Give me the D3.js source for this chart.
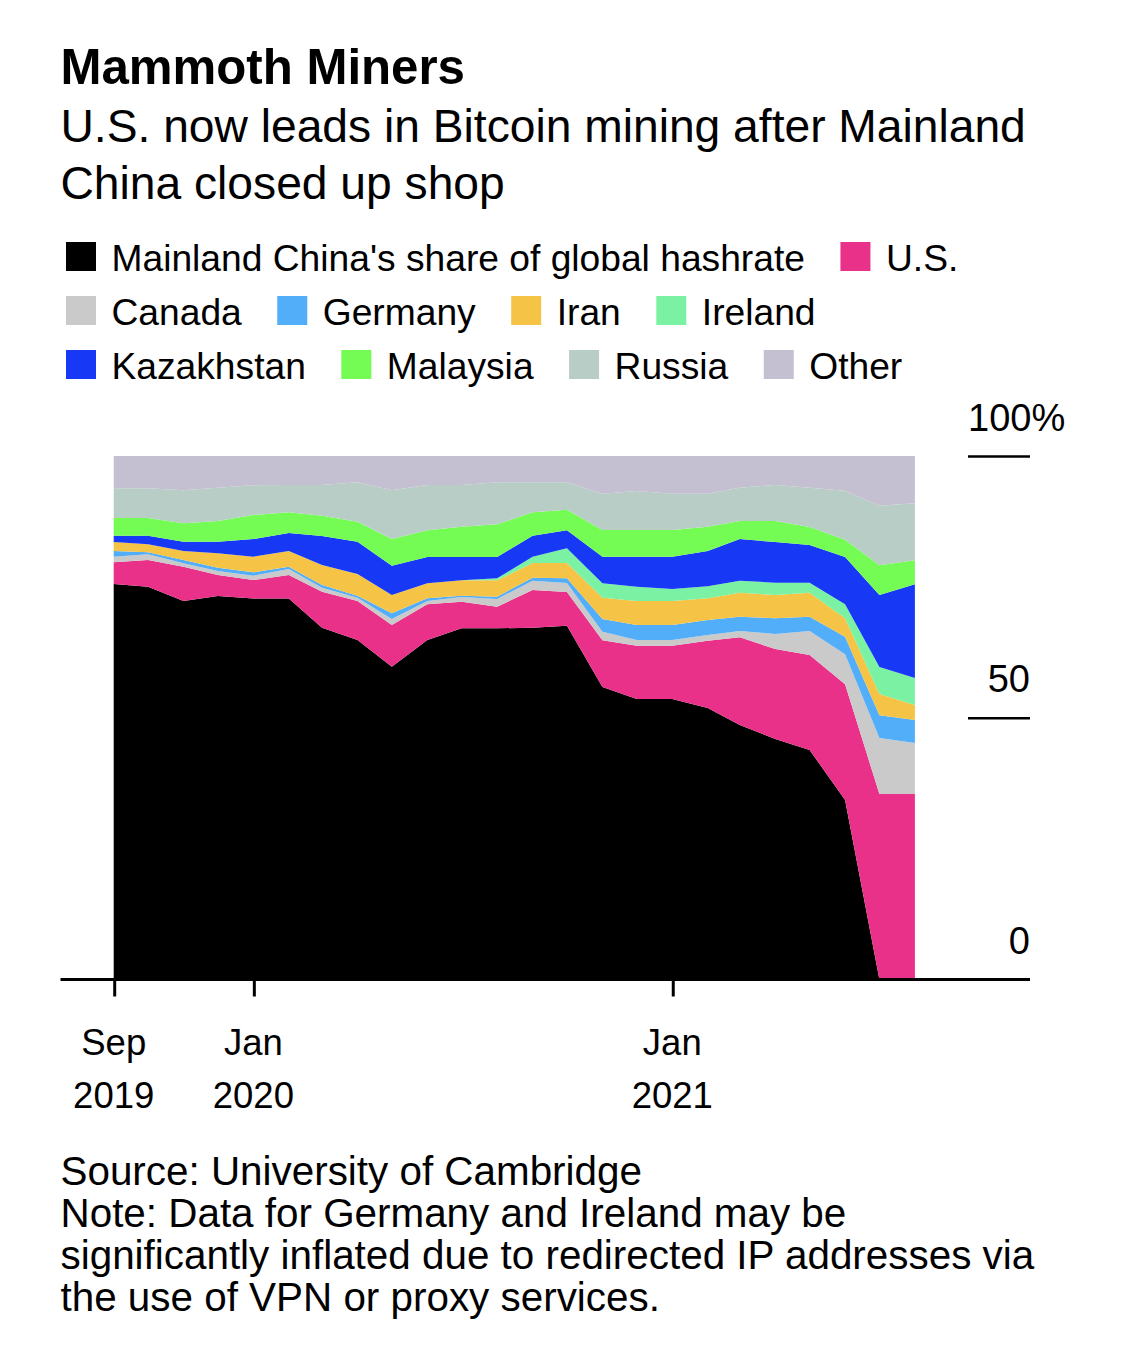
<!DOCTYPE html>
<html>
<head>
<meta charset="utf-8">
<script src="https://cdn.jsdelivr.net/npm/d3@7"></script>
<style>
html,body{margin:0;padding:0;background:#fff}
svg{display:block}
text{font-family:"Liberation Sans",Arial,sans-serif;fill:#000}
</style>
</head>
<body>
<svg id="chart" width="1125" height="1352"></svg>
<script>
const title = "Mammoth Miners";
const subtitle = ["U.S. now leads in Bitcoin mining after Mainland", "China closed up shop"];
const footer = ["Source: University of Cambridge",
  "Note: Data for Germany and Ireland may be",
  "significantly inflated due to redirected IP addresses via",
  "the use of VPN or proxy services."];

const months = ["2019-09","2019-10","2019-11","2019-12","2020-01","2020-02","2020-03","2020-04","2020-05","2020-06","2020-07","2020-08",
  "2020-09","2020-10","2020-11","2020-12","2021-01","2021-02","2021-03","2021-04","2021-05","2021-06","2021-07","2021-08"];
const xTicks = [["2019-09","Sep","2019"],["2020-01","Jan","2020"],["2021-01","Jan","2021"]];
const yTicks = [50,100];
const yLabels = [0,50,100];

const seriesNames = ["Mainland China's share of global hashrate","U.S.","Canada","Germany","Iran","Ireland","Kazakhstan","Malaysia","Russia","Other"];
const seriesColors = ["#000000","#ea3189","#cacaca","#53aef9","#f5c345","#7bf1a3","#1739f5","#74fc54","#b7cdc6","#c4c0d1"];

const china      = [75.55,75.04,72.30,73.26,72.80,72.80,67.20,64.85,59.76,64.85,67.08,67.08,67.20,67.59,55.87,53.58,53.58,51.86,48.60,45.94,43.84,34.29,0,0];
const us         = [4.14,5.09,6.56,4.01,3.51,4.47,6.88,7.45,7.96,6.81,5.09,4.14,7.20,6.43,8.92,10.19,10.19,12.86,16.76,17.19,18.15,22.09,35.43,35.43];
const canada     = [1.08,1.08,0.64,0.76,0.83,1.14,0.77,0.64,1.14,0.64,0.89,1.46,1.78,1.72,1.65,1.08,1.08,1.08,1.21,2.87,4.58,5.73,10.70,9.75];
const germany    = [1.08,0.39,0.63,0.64,0.64,0.45,0.51,0.38,1.08,0.51,0.26,0.45,0.58,0.89,2.42,2.87,2.87,2.87,2.74,2.99,2.74,3.38,4.37,4.39];
const iran       = [1.72,1.52,1.72,2.74,2.99,2.99,3.82,4.14,3.51,2.87,2.93,3.12,2.80,2.93,4.08,4.58,4.58,4.14,4.58,4.46,4.58,3.50,4.04,2.87];
const ireland    = [0,0,0,0,0,0,0,0,0,0,0,0.38,1.21,2.80,2.74,2.74,2.30,2.29,2.29,2.35,1.91,2.67,5.16,5.16];
const kazakhstan = [1.21,1.66,1.78,2.22,3.37,3.44,5.54,6.17,5.60,5.03,4.46,4.08,4.01,3.44,5.09,5.73,6.17,6.75,7.96,7.77,7.20,9.05,13.75,17.88];
const malaysia   = [3.37,3.37,3.51,3.95,4.59,3.95,3.88,3.83,5.09,5.09,5.79,6.24,4.46,3.95,5.09,5.09,5.09,4.65,3.44,4.01,3.44,3.31,5.66,4.59];
const russia     = [5.67,5.67,6.30,6.37,5.67,5.22,5.86,7.51,9.30,8.66,7.96,8.02,5.73,5.22,6.94,7.45,6.94,6.30,6.37,6.88,7.51,9.36,11.40,10.89];
const other      = [6.18,6.18,6.56,6.05,5.60,5.54,5.54,5.03,6.56,5.54,5.54,5.03,5.03,5.03,7.20,6.69,7.20,7.20,6.05,5.54,6.05,6.62,9.49,9.04];
const seriesValues = [china,us,canada,germany,iran,ireland,kazakhstan,malaysia,russia,other];

const parseMonth = d3.utcParse("%Y-%m");
const svg = d3.select("#chart");
const left = 60.5, axisRight = 1030;

svg.append("text").attr("x",left).attr("y",84).attr("font-size",49.2).attr("font-weight",700).text(title);
svg.selectAll(".sub").data(subtitle).join("text").attr("class","sub")
  .attr("x",left).attr("y",(d,i)=>141.5+i*57).attr("font-size",46.2).text(d=>d);

// legend: flow layout
const legendFont = 37.2, swatchW = 30, swatchH = 29, textGap = 45.5, itemGap = 35.5, legendLimit = 1065;
let lx = 66, ly = 258;
seriesNames.forEach((name,i)=>{
  const g = svg.append("g");
  const t = g.append("text").attr("font-size",legendFont).attr("y",ly+13).text(name);
  const w = t.node().getComputedTextLength();
  if (lx + textGap + w > legendLimit) { lx = 66; ly += 54; t.attr("y",ly+13); }
  g.append("rect").attr("x",lx).attr("y",ly-16).attr("width",swatchW).attr("height",swatchH).attr("fill",seriesColors[i]);
  t.attr("x",lx+textGap);
  lx += textGap + w + itemGap;
});

// scales
const x = d3.scaleUtc().domain([parseMonth(months[0]),parseMonth(months[months.length-1])]).range([113.7,914.9]);
const y = d3.scaleLinear().domain([0,100]).range([979.5,456]);

const rows = months.map((m,i)=>{
  const r = {date:parseMonth(m)};
  seriesNames.forEach((n,j)=>{ r[n] = seriesValues[j][i]; });
  return r;
});
const stacked = d3.stack().keys(seriesNames)(rows);
const area = d3.area().x(d=>x(d.data.date)).y0(d=>y(d[0])).y1(d=>y(d[1])).curve(d3.curveLinear);
svg.append("g").selectAll("path").data(stacked).join("path")
  .attr("d",area).attr("fill",(d,i)=>seriesColors[i]);

// y axis
const yAxis = d3.axisRight(y).tickValues(yTicks).tickSize(axisRight-968).tickFormat("");
const yg = svg.append("g").attr("transform","translate(968,0)").call(yAxis);
yg.select(".domain").remove();
yg.selectAll(".tick line").attr("stroke","#000").attr("stroke-width",2.5);
yg.selectAll(".tick text").remove();
svg.append("g").selectAll("text").data(yLabels).join("text")
  .attr("font-size",38).attr("y",d=>y(d)-25.5)
  .attr("x",d=>d===100?968:axisRight)
  .attr("text-anchor",d=>d===100?"start":"end")
  .text(d=>d===100?"100%":String(d));

// baseline
svg.append("line").attr("x1",left).attr("x2",axisRight).attr("y1",y(0)).attr("y2",y(0))
  .attr("stroke","#000").attr("stroke-width",3);

// x axis
const tickDates = xTicks.map(d=>parseMonth(d[0]));
const xAxis = d3.axisBottom(x).tickValues(tickDates).tickSize(17.5).tickFormat("");
const xg = svg.append("g").attr("transform",`translate(0.5,${y(0)-0.5})`).call(xAxis);
xg.select(".domain").remove();
xg.selectAll(".tick line").attr("stroke","#000").attr("stroke-width",3);
xg.selectAll(".tick text").remove();
const xl = svg.append("g").selectAll("g").data(xTicks).join("g")
  .attr("transform",d=>`translate(${x(parseMonth(d[0]))},0)`);
xl.append("text").attr("text-anchor","middle").attr("y",1055).attr("font-size",36.5).text(d=>d[1]);
xl.append("text").attr("text-anchor","middle").attr("y",1108).attr("font-size",36.5).text(d=>d[2]);

// footer
svg.selectAll(".foot").data(footer).join("text").attr("class","foot")
  .attr("x",left).attr("y",(d,i)=>1184.5+i*42).attr("font-size",40.4).text(d=>d);
</script>
</body>
</html>
